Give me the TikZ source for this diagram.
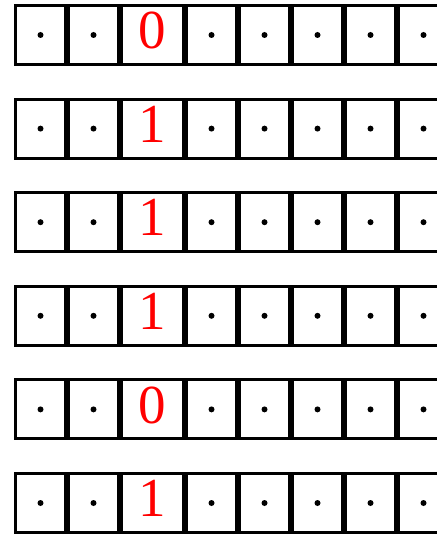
\documentclass[tikz,border=0pt]{standalone}
\usepackage{fontspec}
\setmainfont{Liberation Serif}
\usetikzlibrary{positioning}
\definecolor{ink}{RGB}{0,0,0}
\definecolor{bit}{RGB}{255,0,0}
\tikzset{
  every picture/.style={color=ink, line width=3pt},
  cell/.style={draw=ink, rectangle, line width=3pt, minimum width=50pt, minimum height=59pt, inner sep=0pt},
  wide/.style={cell, minimum width=62pt, text=bit, font=\fontsize{55}{55}\selectfont, text depth=9pt},
  pip/.style={fill=ink},
}

\begin{document}
\begin{tikzpicture}
  \useasboundingbox (0,0) rectangle (436pt,-534pt);
  \foreach \d [count=\r] in {0,1,1,1,0,1} {
    \coordinate (row\r) at (14pt,{-4pt-(\r-1)*93.6pt});
    \node[cell, anchor=north west] (c\r-1) at (row\r) {};
    \node[cell, right=0pt of c\r-1] (c\r-2) {};
    \node[wide, right=0pt of c\r-2] (c\r-3) {\d};
    \foreach \k [remember=\k as \j (initially 3)] in {4,...,8}
      \node[cell, right=0pt of c\r-\j] (c\r-\k) {};
    % a dot in every cell but the bit
    \foreach \k in {1,2,4,5,6,7,8}
      \fill[pip] (c\r-\k.center) circle (3pt);
  }
\end{tikzpicture}
\end{document}
